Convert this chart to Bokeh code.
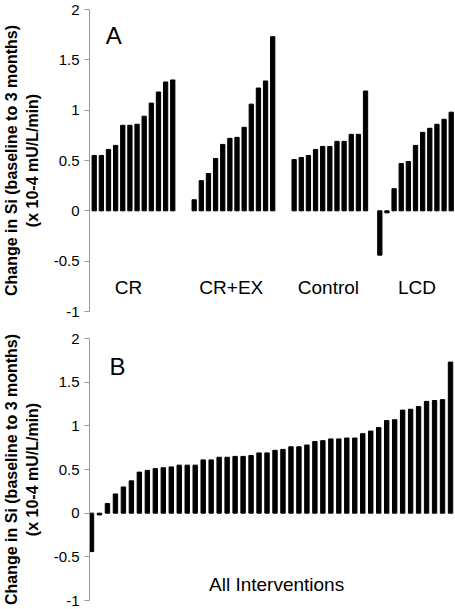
from bokeh.plotting import figure
from bokeh.models import Range1d, FixedTicker
from bokeh.layouts import column
from bokeh.embed import file_html
from bokeh.resources import INLINE
from bokeh.core.properties import value

# ---- data (change in Si, baseline to 3 months, x 10-4 mU/L/min) ----
groups = ["CR", "CR+EX", "Control", "LCD"]
cr = [0.55, 0.55, 0.61, 0.65, 0.85, 0.85, 0.86, 0.94, 1.07, 1.18, 1.28, 1.30]
cr_ex = [0.11, 0.30, 0.37, 0.52, 0.66, 0.72, 0.73, 0.83, 1.06, 1.22, 1.29, 1.73]
control = [0.51, 0.53, 0.55, 0.61, 0.64, 0.64, 0.69, 0.69, 0.76, 0.76, 1.19]
lcd = [-0.44, -0.02, 0.22, 0.47, 0.49, 0.65, 0.78, 0.82, 0.86, 0.91, 0.98]
all_label = "All Interventions"
y_ticks = [-1, -0.5, 0, 0.5, 1, 1.5, 2]
y_tick_labels = ["-1", "-0.5", "0", "0.5", "1", "1.5", "2"]
y_title = "Change in Si (baseline to 3 months)\n(x 10-4 mU/L/min)"

# ---- layout constants ----
FONT = "Liberation Sans"
group_start = [0, 14, 28, 40]          # slot where each group's bars begin
label_slot = [4.8, 19.2, 32.8, 45.2]   # centre of each group label
AXIS_COLOR = "#9a9a9a"


def style(p):
    p.grid.visible = False
    p.outline_line_color = None
    ax = p.yaxis[0]
    ax.ticker = FixedTicker(ticks=y_ticks)
    ax.major_label_overrides = {t: s for t, s in zip(y_ticks, y_tick_labels)}
    ax.axis_line_color = AXIS_COLOR
    ax.major_tick_line_color = AXIS_COLOR
    ax.major_tick_out = 5
    ax.major_tick_in = 0
    ax.minor_tick_line_color = None
    ax.major_label_text_font = FONT
    ax.major_label_text_font_size = "15px"
    ax.major_label_text_color = "black"
    ax.major_label_standoff = 5
    ax.axis_label = y_title
    ax.axis_label_text_font = FONT
    ax.axis_label_text_font_style = "bold"
    ax.axis_label_text_font_size = "16px"
    ax.axis_label_text_color = "black"
    ax.axis_label_standoff = 10


# ---- panel A ----
pa = figure(frame_width=365, frame_height=302,
            x_range=Range1d(-0.66, 50.46), y_range=Range1d(-1, 2),
            x_axis_location=None, output_backend="svg", toolbar_location=None,
            min_border_left=87, min_border_right=2, min_border_top=9,
            min_border_bottom=11)
xs, tops = [], []
for start, vals in zip(group_start, [cr, cr_ex, control, lcd]):
    for i, v in enumerate(vals):
        xs.append(start + i)
        tops.append(v)
pa.vbar(x=xs, top=tops, bottom=0, width=0.6, color="black")
pa.text(x=label_slot, y=[-0.765] * 4, text=groups, text_font=value(FONT),
        text_font_size="19px", text_align="center", text_baseline="middle",
        text_color="black")
pa.text(x=[1.62], y=[1.74], text=["A"], text_font=value(FONT),
        text_font_size="24px", text_align="left", text_baseline="alphabetic",
        text_color="black")
style(pa)

# ---- panel B ----
all_sorted = sorted(cr + cr_ex + control + lcd)
pb = figure(frame_width=365, frame_height=262,
            x_range=Range1d(-0.25, 45.5), y_range=Range1d(-1, 2),
            x_axis_location=None, output_backend="svg", toolbar_location=None,
            min_border_left=86, min_border_right=3, min_border_top=16,
            min_border_bottom=7)
pb.vbar(x=list(range(len(all_sorted))), top=all_sorted, bottom=0, width=0.55,
        color="black")
pb.text(x=[23.2], y=[-0.82], text=[all_label], text_font=value(FONT),
        text_font_size="19px", text_align="center", text_baseline="middle",
        text_color="black")
pb.text(x=[2.25], y=[1.677], text=["B"], text_font=value(FONT),
        text_font_size="24px", text_align="left", text_baseline="alphabetic",
        text_color="black")
style(pb)

layout = column(pa, pb, spacing=0)
open("out.html", "w").write(file_html(layout, INLINE))
